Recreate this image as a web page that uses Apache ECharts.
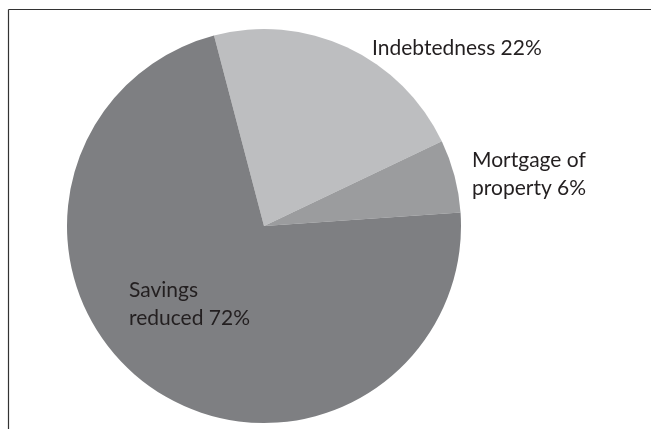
<!DOCTYPE html>
<html><head><meta charset="utf-8">
<script src="https://cdn.jsdelivr.net/npm/echarts@6/dist/echarts.min.js"></script>
<style>html,body{margin:0;padding:0;background:#fff}#c{width:651px;height:429px}</style>
</head><body><div id="c"></div>
<script>
const categories = ['Indebtedness', 'Mortgage of property', 'Savings reduced'];
const labelTexts = ['Indebtedness 22%', 'Mortgage of\nproperty 6%', 'Savings\nreduced 72%'];
const values = [22, 6, 72];
const colors = ['#bdbec0', '#9b9c9e', '#7e7f82'];
const labelPos = [[372, 48], [472, 174], [129, 304]];

const chart = echarts.init(document.getElementById('c'), null, {renderer: 'canvas'});
chart.setOption({
  animation: false,
  backgroundColor: '#fff',
  graphic: [
    {type: 'line', shape: {x1: 8.5, y1: 9.5, x2: 651, y2: 9.5}, style: {stroke: '#333', lineWidth: 1.2}},
    {type: 'line', shape: {x1: 8.5, y1: 9.5, x2: 8.5, y2: 429}, style: {stroke: '#333', lineWidth: 1.2}}
  ],
  series: [{
    type: 'pie',
    center: [264, 226],
    radius: [0, 197],
    startAngle: 104.7,
    clockwise: true,
    data: categories.map((c, i) => ({
      name: c, value: values[i],
      itemStyle: {color: colors[i]},
      label: {formatter: labelTexts[i]}
    })),
    itemStyle: {borderWidth: 0},
    label: {
      show: true,
      position: 'inside',
      fontFamily: 'Lato',
      fontSize: 21,
      color: '#231f20',
      lineHeight: 28,
      align: 'left'
    },
    labelLine: {show: false},
    labelLayout: function (p) {
      const pos = labelPos[p.dataIndex];
      return {x: pos[0], y: pos[1], align: 'left', verticalAlign: 'middle'};
    },
    emphasis: {disabled: true}
  }]
});
</script></body></html>
